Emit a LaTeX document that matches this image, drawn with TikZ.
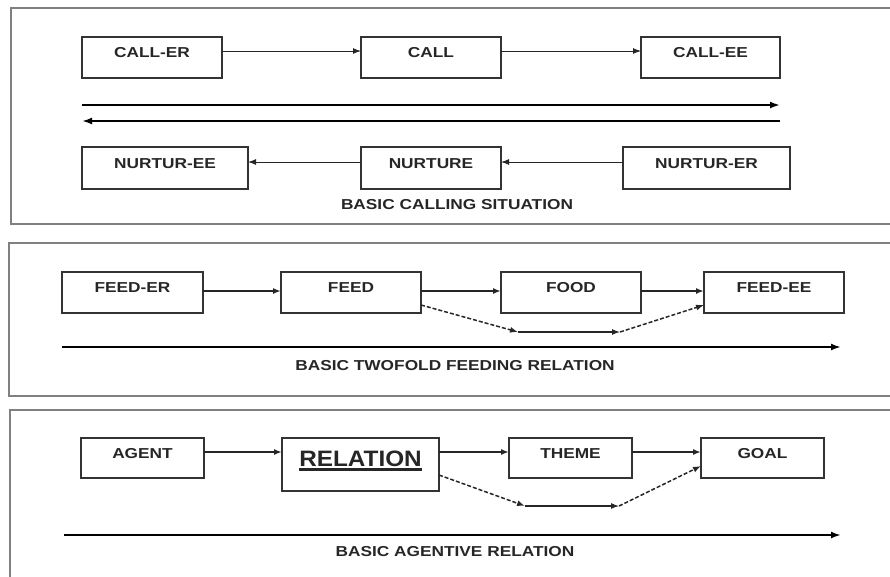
\documentclass[tikz,border=0pt]{standalone}
\usepackage{fontspec}
\setmainfont{Liberation Sans}[FakeStretch=1.2]
\newfontfamily\relfont{Liberation Sans}[FakeStretch=1.09]
\usetikzlibrary{arrows.meta}
\newcommand{\thickunder}[1]{\setbox0\hbox{#1}\rlap{\rule[-4.5pt]{\wd0}{2.5pt}}\box0}

\begin{document}
\begin{tikzpicture}[x=1pt,y=-1pt]
    \tikzstyle{frame}=[draw=black!50,line width=1.3pt]
    \tikzstyle{term}=[draw=black!80,line width=1.2pt,inner sep=0pt,outer sep=0pt,anchor=north west,text=black!85,font=\fontsize{14.4}{16}\selectfont\bfseries]
    \tikzstyle{caption}=[text=black!85,font=\fontsize{14.4}{16}\selectfont\bfseries]
    \tikzstyle{thinedge}=[draw,black!85,line width=1pt,-{Latex[length=8pt,width=6pt]}]
    \tikzstyle{edge}=[draw,black!85,line width=1.8pt,-{Latex[length=8pt,width=6pt]}]
    \tikzstyle{longedge}=[draw,black,line width=2.2pt,-{Latex[length=10pt,width=7pt]}]
    \tikzstyle{dashedge}=[draw,black!85,line width=1.5pt,dash pattern=on 4pt off 2pt,-{Latex[length=8pt,width=6pt]}]
    \tikzstyle{lowedge}=[draw,black!85,line width=1.1pt,-{Latex[length=8pt,width=6pt]}]

    \useasboundingbox (0,0) rectangle (890,576);

    % the three panels
    \draw[frame] (900,8) -- (11,8) -- (11,224) -- (900,224);
    \draw[frame] (900,243) -- (9,243) -- (9,396) -- (900,396);
    \draw[frame] (900,410) -- (10,410) -- (10,590);
    \draw[frame,line width=2.2pt] (10,410) -- (10,590);

    % calling situation
    \node[term,text height=20pt,text depth=21pt,minimum width=140pt] (caller) at (82,37) {CALL-ER};
    \node[term,text height=20pt,text depth=21pt,minimum width=140pt] (call) at (361,37) {CALL};
    \node[term,text height=20pt,text depth=21pt,minimum width=139pt] (callee) at (641,37) {CALL-EE};
    \node[term,text height=21pt,text depth=21pt,minimum width=166pt] (nurturee) at (82,147) {NURTUR-EE};
    \node[term,text height=21pt,text depth=21pt,minimum width=140pt] (nurture) at (361,147) {NURTURE};
    \node[term,text height=21pt,text depth=21pt,minimum width=167pt] (nurturer) at (623,147) {NURTUR-ER};
    \node[caption] (capcall) at (457,205) {BASIC CALLING SITUATION};

    \path[thinedge] ([yshift=6.5pt]caller.east) -- ([yshift=6.5pt]call.west);
    \path[thinedge] ([yshift=6.5pt]call.east) -- ([yshift=6.5pt]callee.west);
    \path[thinedge] ([yshift=6pt]nurturer.west) -- ([yshift=6pt]nurture.east);
    \path[thinedge] ([yshift=6pt]nurture.west) -- ([yshift=6pt]nurturee.east);

    \coordinate (r1) at (82,105);
    \coordinate (r2) at (780,105);
    \coordinate (s1) at (780,121);
    \coordinate (s2) at (82,121);
    \path[longedge] (r1) -- (r2);
    \path[longedge] (s1) -- (s2);

    % twofold feeding relation
    \node[term,text height=20pt,text depth=21pt,minimum width=141pt] (feeder) at (62,272) {FEED-ER};
    \node[term,text height=20pt,text depth=21pt,minimum width=140pt] (feed) at (281,272) {FEED};
    \node[term,text height=20pt,text depth=21pt,minimum width=140pt] (food) at (501,272) {FOOD};
    \node[term,text height=20pt,text depth=21pt,minimum width=140pt] (feedee) at (704,272) {FEED-EE};
    \node[caption] (capfeed) at (455,366) {BASIC TWOFOLD FEEDING RELATION};

    \path[edge] ([yshift=1.5pt]feeder.east) -- ([yshift=1.5pt]feed.west);
    \path[edge] ([yshift=1.5pt]feed.east) -- ([yshift=1.5pt]food.west);
    \path[edge] ([yshift=1.5pt]food.east) -- ([yshift=1.5pt]feedee.west);

    \coordinate (f1) at (518,332);
    \coordinate (f2) at (620,332);
    \path[dashedge] ([yshift=8pt]feed.south east) -- (f1);
    \path[lowedge] (f1) -- (f2);
    \path[dashedge] (f2) -- ([yshift=8pt]feedee.south west);

    \coordinate (t1) at (62,347);
    \coordinate (t2) at (841,347);
    \path[longedge] (t1) -- (t2);

    % agentive relation
    \node[term,text height=20pt,text depth=20pt,minimum width=123pt] (agent) at (81,438) {AGENT};
    \node[term,text height=28pt,text depth=25pt,minimum width=157pt,line width=1.6pt,font=\fontsize{22.3}{24}\relfont\bfseries] (relation) at (282,438) {\thickunder{RELATION}};
    \node[term,text height=20pt,text depth=20pt,minimum width=123pt] (theme) at (509,438) {THEME};
    \node[term,text height=20pt,text depth=20pt,minimum width=123pt] (goal) at (701,438) {GOAL};
    \node[caption] (capagent) at (455,552) {BASIC AGENTIVE RELATION};

    \path[edge] ([yshift=6pt]agent.east) -- ([yshift=6pt]agent.east -| relation.west);
    \path[edge] ([yshift=6pt]theme.west -| relation.east) -- ([yshift=6pt]theme.west);
    \path[edge] ([yshift=6pt]theme.east) -- ([yshift=6pt]goal.west);

    \coordinate (g1) at (525,506);
    \coordinate (g2) at (619,506);
    \path[dashedge] ([yshift=16pt]relation.south east) -- (g1);
    \path[lowedge] (g1) -- (g2);
    \path[dashedge] (g2) -- ([yshift=12pt]goal.south west);

    \coordinate (u1) at (64,535);
    \coordinate (u2) at (841,535);
    \path[longedge] (u1) -- (u2);

\end{tikzpicture}
\end{document}
